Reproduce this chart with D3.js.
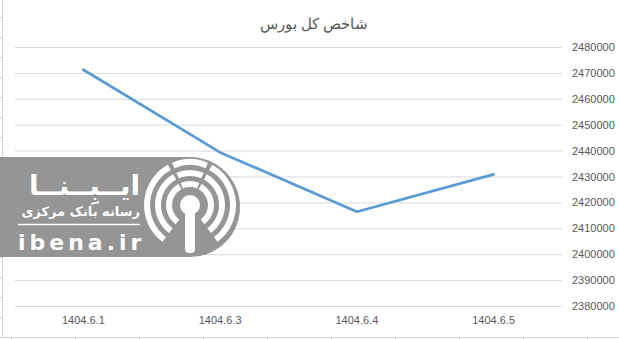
<!DOCTYPE html>
<html>
<head>
<meta charset="utf-8">
<script src="https://cdn.jsdelivr.net/npm/d3@7"></script>
<style>
  body { margin: 0; background: #fff; }
  svg { display: block; }
  text { font-family: "Liberation Sans", Arial, sans-serif; }
</style>
</head>
<body>
<svg width="619" height="339"></svg>
<script>
// data
const chartTitle = 'شاخص کل بورس';
const dates = ['1404.6.1', '1404.6.3', '1404.6.4', '1404.6.5'];
const indexValues = [2471200, 2439300, 2416400, 2430800];
const yTicks = [2380000, 2390000, 2400000, 2410000, 2420000, 2430000, 2440000, 2450000, 2460000, 2470000, 2480000];

var svg = d3.select('svg'),
  width = +svg.attr('width'),
  height = +svg.attr('height');

var plot = {left: 15, right: 562, top: 47, bottom: 306};

// spreadsheet cell borders behind the chart
var sheet = svg.append('g').attr('stroke', '#d4d4d4').attr('stroke-width', 1);
sheet.append('line').attr('x1', 2.5).attr('x2', 2.5).attr('y1', 0).attr('y2', 338);
sheet.append('line').attr('x1', 0).attr('x2', width).attr('y1', 337.5).attr('y2', 337.5);
sheet.selectAll('.rowtick').data(d3.range(17, 337, 20)).enter().append('line')
  .attr('x1', 0).attr('x2', 2).attr('y1', d => d + 0.5).attr('y2', d => d + 0.5);
sheet.selectAll('.coltick').data(d3.range(11, width, 64)).enter().append('line')
  .attr('x1', d => d + 0.5).attr('x2', d => d + 0.5).attr('y1', 337).attr('y2', 339);

var x = d3.scaleBand()
  .domain(dates)
  .range([plot.left, plot.right]);

var y = d3.scaleLinear()
  .domain([2380000, 2480000])
  .range([plot.bottom, plot.top]);

// gridlines + right side labels
var yAxis = svg.append('g')
  .attr('transform', `translate(${plot.right}, 0)`)
  .call(d3.axisRight(y).tickValues(yTicks).tickFormat(d3.format('d'))
    .tickSize(-(plot.right - plot.left)).tickPadding(10));
yAxis.select('.domain').remove();
yAxis.selectAll('.tick line').attr('stroke', '#d9d9d9');
yAxis.selectAll('.tick text')
  .attr('fill', '#595959')
  .style('font-size', '11px');

// category labels
var xAxis = svg.append('g')
  .attr('transform', `translate(0, ${plot.bottom})`)
  .call(d3.axisBottom(x).tickSize(0).tickPadding(10));
xAxis.select('.domain').remove();
xAxis.selectAll('.tick text')
  .attr('fill', '#595959')
  .style('font-size', '11px');

// title
svg.append('text')
  .attr('x', 314)
  .attr('y', 29)
  .attr('text-anchor', 'middle')
  .attr('fill', '#595959')
  .style('font-size', '15px')
  .text(chartTitle);

// watermark (ibena logo)
var logo = svg.append('g');
logo.append('path')
  .attr('d', 'M0,157 H190 A50,50 0 0 1 190,257 H0 Z')
  .attr('fill', '#8f8f8f')
  .attr('opacity', 0.95);

var arc = d3.arc();
var icon = logo.append('g').attr('transform', 'translate(190, 205)');
[[18, 24], [29, 35], [40, 46]].forEach(r => {
  [[-2.5, -0.5], [0.5, 2.5], [-0.4, 0.4]].forEach(a => {
    icon.append('path')
      .attr('d', arc({innerRadius: r[0], outerRadius: r[1], startAngle: a[0], endAngle: a[1]}))
      .attr('fill', '#fff');
  });
});
icon.append('circle').attr('r', 10).attr('fill', '#fff');
icon.append('rect').attr('x', -5).attr('y', 0).attr('width', 10).attr('height', 48).attr('rx', 4).attr('fill', '#fff');

logo.append('text')
  .attr('x', 140).attr('y', 195)
  .attr('text-anchor', 'end')
  .attr('fill', '#fff')
  .style('font-family', '"DejaVu Sans", sans-serif')
  .style('font-weight', 'bold')
  .style('font-size', '28px')
  .text('ایــبِــنــا');
logo.append('text')
  .attr('x', 140).attr('y', 216)
  .attr('text-anchor', 'end')
  .attr('fill', '#fff')
  .style('font-family', '"DejaVu Sans", sans-serif')
  .style('font-weight', 'bold')
  .style('font-size', '13px')
  .text('رسانه بانک مرکزی');
logo.append('line')
  .attr('x1', 18).attr('x2', 140).attr('y1', 224.5).attr('y2', 224.5)
  .attr('stroke', '#fff').attr('stroke-width', 1.5);
logo.append('text')
  .attr('x', 18).attr('y', 250)
  .attr('fill', '#fff')
  .style('font-family', '"DejaVu Sans", sans-serif')
  .style('font-weight', 'bold')
  .style('font-size', '22px')
  .style('letter-spacing', '4px')
  .text('ibena.ir');

// series line
var line = d3.line()
  .x((d, i) => x(dates[i]) + x.bandwidth() / 2)
  .y(d => y(d));

svg.append('path')
  .datum(indexValues)
  .attr('fill', 'none')
  .attr('stroke', '#5b9bd5')
  .attr('stroke-width', 2.75)
  .attr('stroke-linejoin', 'round')
  .attr('stroke-linecap', 'round')
  .attr('d', line);
</script>
</body>
</html>
